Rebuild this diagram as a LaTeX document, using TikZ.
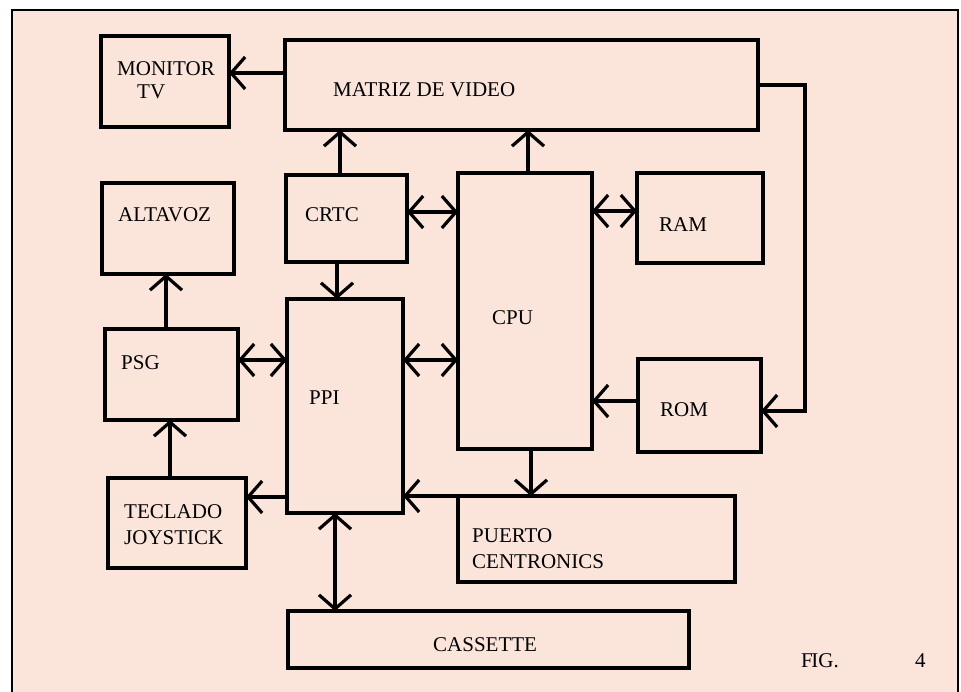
\documentclass[tikz,border=0pt]{standalone}
\usepackage{fontspec}
\setmainfont{Liberation Serif}
\usetikzlibrary{arrows.meta}
\definecolor{peach}{RGB}{251,229,219}
\tikzset{
  box/.style={draw, line width=3.2pt, inner sep=0pt, outer sep=0pt},
  lbl/.style={anchor=base west, inner sep=0pt, font=\fontsize{21}{24}\selectfont},
  conn/.style={line width=3.2pt},
  arr/.style={conn, -{Straight Barb[length=14pt,width=32pt]}},
  darr/.style={conn, {Straight Barb[length=14pt,width=32pt]}-{Straight Barb[length=14pt,width=32pt]}}
}
\newcommand{\bx}[5]{\node[box, minimum width={#4pt-#2pt}, minimum height={#5pt-#3pt}] (#1) at ({(#2+#4)/2},{(#3+#5)/2}) {};}
\begin{document}
\begin{tikzpicture}[x=1pt,y=-1pt]
\useasboundingbox (0,0) rectangle (961,692);
\clip (0,0) rectangle (961,692);
\fill[white] (0,0) rectangle (961,692);
\draw[line width=2.6pt, fill=peach] (12,10) rectangle (958,710);
% boxes
\bx{monitor}{101}{36}{229}{127}
\bx{matriz}{285}{40}{758}{130}
\bx{altavoz}{102}{183}{234}{274}
\bx{crtc}{286}{175}{407}{262}
\bx{cpu}{458}{173}{592}{449}
\bx{ram}{637}{173}{763}{263}
\bx{ppi}{287}{299}{403}{513}
\bx{psg}{105}{329}{238}{420}
\bx{teclado}{108}{478}{246}{568}
\bx{puerto}{458}{496}{735}{582}
\bx{cassette}{288}{611}{689}{668}
\bx{rom}{638}{359}{761}{452}
% labels
\node[lbl] (t1) at (117,76) {MONITOR};
\node[lbl] (t2) at (137,99) {TV};
\node[lbl] (t3) at (333,97) {MATRIZ DE VIDEO};
\node[lbl] (t4) at (118,222) {ALTAVOZ};
\node[lbl] (t5) at (305,222) {CRTC};
\node[lbl] (t6) at (659,232) {RAM};
\node[lbl] (t7) at (492,325) {CPU};
\node[lbl] (t8) at (121,370) {PSG};
\node[lbl] (t9) at (309,405) {PPI};
\node[lbl] (t10) at (660,417) {ROM};
\node[lbl] (t11) at (124,518) {TECLADO};
\node[lbl] (t12) at (124,544) {JOYSTICK};
\node[lbl] (t13) at (472,542) {PUERTO};
\node[lbl] (t14) at (472,568) {CENTRONICS};
\node[lbl] (t15) at (433,651) {CASSETTE};
\node[lbl] (t16) at (801,667) {F\kern-1.5pt IG.};
\node[lbl] (t17) at (915,667) {4};
% connectors
\draw[arr] (matriz.west |- 0,73) -- (monitor.east |- 0,73);
\draw[arr] (crtc.north -| 340,0) -- (matriz.south -| 340,0);
\draw[arr] (cpu.north -| 528,0) -- (matriz.south -| 528,0);
\draw[darr] (crtc.east |- 0,212) -- (cpu.west |- 0,212);
\draw[darr] (cpu.east |- 0,211) -- (ram.west |- 0,211);
\draw[arr] (crtc.south -| 337,0) -- (ppi.north -| 337,0);
\draw[arr] (psg.north -| 166,0) -- (altavoz.south -| 166,0);
\draw[darr] (psg.east |- 0,360) -- (ppi.west |- 0,360);
\draw[darr] (ppi.east |- 0,360) -- (cpu.west |- 0,360);
\draw[arr] (teclado.north -| 170,0) -- (psg.south -| 170,0);
\draw[arr] (ppi.west |- 0,497) -- (teclado.east |- 0,497);
\draw[arr] (puerto.north west) -- (ppi.east |- puerto.north west);
\draw[arr] (cpu.south -| 531,0) -- (puerto.north -| 531,0);
\draw[arr] (rom.west |- 0,401) -- (cpu.east |- 0,401);
\coordinate (bend) at (805,411);
\draw[arr] (matriz.east |- 0,85) -| (bend) -- (rom.east |- bend);
\draw[darr] (ppi.south -| 335,0) -- (cassette.north -| 335,0);
\end{tikzpicture}
\end{document}
